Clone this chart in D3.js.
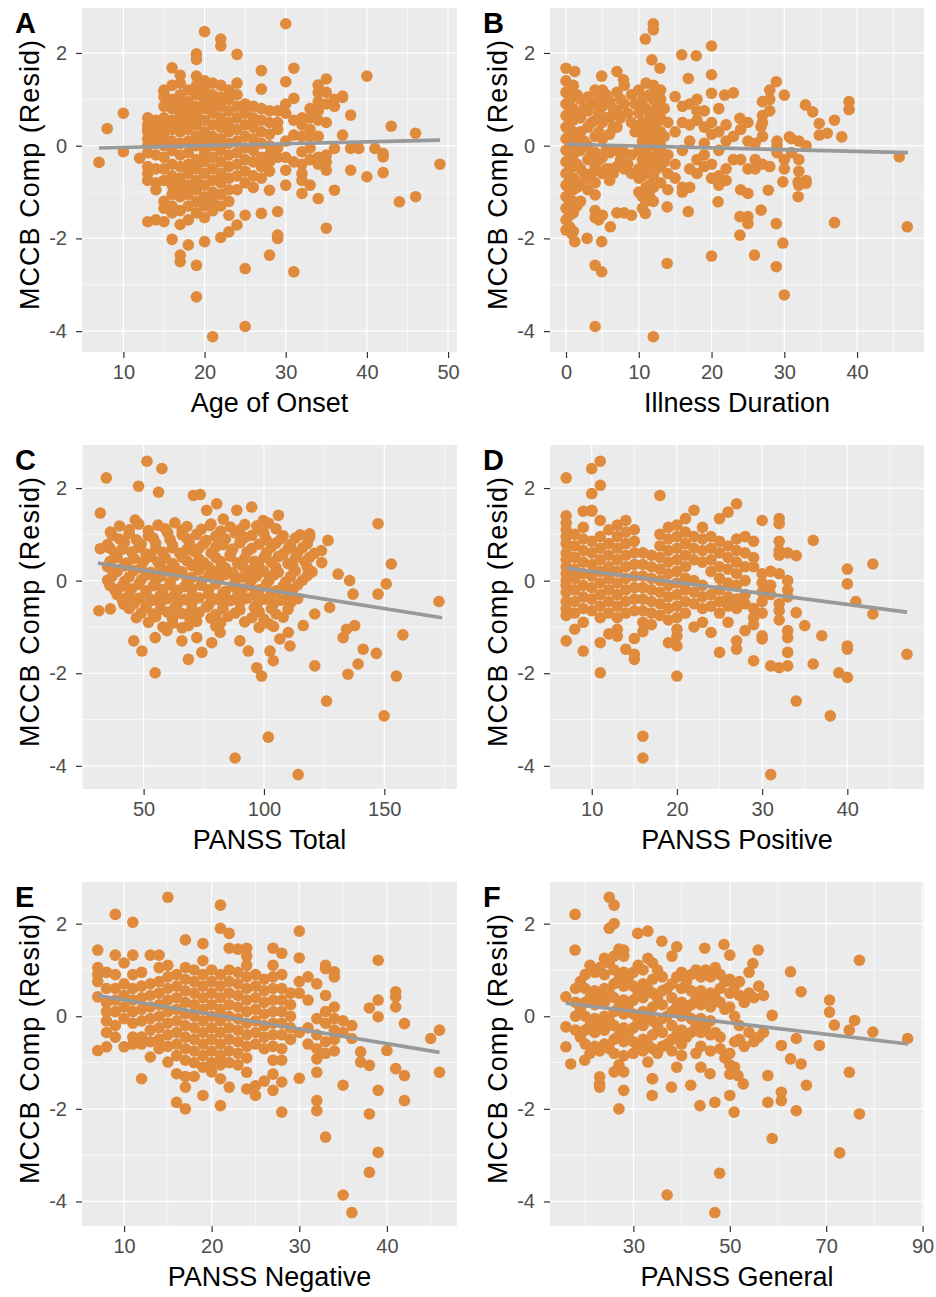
<!DOCTYPE html>
<html>
<head>
<meta charset="utf-8">
<script src="https://cdn.jsdelivr.net/npm/d3@7"></script>
<style>
body { margin: 0; background: #fff; }
text { font-family: "Liberation Sans", Arial, Helvetica, sans-serif; }
</style>
</head>
<body>
<svg id="chart" width="936" height="1297"></svg>
<script>
// y values are MCCB composite residuals
var yTicks = [-4, -2, 0, 2];
var yMinor = [-3, -1, 1];

// A: Age of Onset
var onsetTicks = [10, 20, 30, 40, 50];
var onsetMinor = [15, 25, 35, 45];
var onsetFit = [[7, -0.05], [49, 0.12]];
var onsetPts = [
[7,-0.36],[8,0.37],[10,0.70],[10,-0.13],[12,-0.27],[13,-1.64],[14,-1.6],[15,-1.64],[15,1.17],[16,1.68],[16,-2.02],[17,-2.36],[17,-2.5],[17,1.52],[18,-2.14],[19,1.98],[19,1.86],[19,-2.58],[19,-3.26],[20,2.46],[20,-2.07],[21,-4.12],[22,2.3],[22,2.15],[22,-1.98],[23,-1.86],[23,-1.5],[24,1.97],[24,-1.71],[25,-1.5],[25,-2.65],[25,-3.9],[27,1.62],[27,1.22],[27,-1.46],[28,-0.96],[28,-2.36],[29,-1.42],[29,-1.93],[29,-2.0],[30,2.63],[30,1.38],[30,-0.53],[30,-0.85],[31,1.67],[31,1.02],[31,-2.72],[31,0.23],[32,-1.03],[32,-0.13],[33,-0.85],[34,-1.14],[34,1.31],[35,1.44],[35,-1.78],[35,-0.53],[36,-0.96],[36,-0.06],[37,1.04],[37,0.23],[38,0.66],[38,-0.53],[38,-0.06],[39,-0.06],[40,1.5],[40,-0.67],[41,-0.06],[42,-0.17],[42,-0.24],[42,-0.58],[43,0.42],[44,-1.21],[46,0.27],[46,-1.1],[49,-0.4],
[13,0.6],[13,0.45],[13,0.3],[13,0.15],[13,0.0],[13,-0.15],[13,-0.45],[13,-0.6],[13,-0.75],[13,0.35],
[14,0.55],[14,0.35],[14,0.2],[14,0.05],[14,-0.2],[14,-0.5],[14,-0.8],[14,-0.95],[14,0.1],
[15,1.2],[15,1.05],[15,0.85],[15,0.6],[15,0.4],[15,0.2],[15,0.0],[15,-0.25],[15,-0.5],[15,-0.75],[15,-1.2],[15,-1.35],
[16,1.0],[16,0.8],[16,0.55],[16,0.35],[16,0.1],[16,-0.1],[16,-0.4],[16,-0.65],[16,-0.85],[16,-1.05],[16,-1.3],[16,-1.45],[16,1.3],
[17,1.35],[17,1.1],[17,0.9],[17,0.7],[17,0.5],[17,0.3],[17,0.05],[17,-0.2],[17,-0.45],[17,-0.7],[17,-0.9],[17,-1.1],[17,-1.4],[17,-1.7],
[18,1.2],[18,0.95],[18,0.75],[18,0.55],[18,0.35],[18,0.1],[18,-0.15],[18,-0.4],[18,-0.6],[18,-0.85],[18,-1.05],[18,-1.3],[18,-1.6],
[19,1.5],[19,1.3],[19,1.1],[19,0.85],[19,0.65],[19,0.45],[19,0.2],[19,0.0],[19,-0.3],[19,-0.5],[19,-0.75],[19,-0.95],[19,-1.2],[19,-1.45],
[20,1.4],[20,1.2],[20,1.0],[20,0.8],[20,0.55],[20,0.3],[20,0.1],[20,-0.15],[20,-0.35],[20,-0.6],[20,-0.85],[20,-1.1],[20,-1.3],[20,-1.55],
[21,1.35],[21,1.1],[21,0.9],[21,0.7],[21,0.45],[21,0.2],[21,0.0],[21,-0.25],[21,-0.5],[21,-0.75],[21,-1.0],[21,-1.2],[21,-1.4],
[22,1.3],[22,1.05],[22,0.85],[22,0.6],[22,0.4],[22,0.15],[22,-0.1],[22,-0.35],[22,-0.6],[22,-0.8],[22,-1.05],[22,-1.3],
[23,1.2],[23,1.0],[23,0.75],[23,0.5],[23,0.3],[23,0.05],[23,-0.2],[23,-0.45],[23,-0.7],[23,-0.95],[23,-1.2],
[24,1.35],[24,1.1],[24,0.85],[24,0.6],[24,0.35],[24,0.1],[24,-0.15],[24,-0.4],[24,-0.65],[24,-0.95],
[25,0.9],[25,0.7],[25,0.45],[25,0.2],[25,-0.05],[25,-0.3],[25,-0.55],[25,-0.8],
[26,0.85],[26,0.6],[26,0.4],[26,0.15],[26,-0.1],[26,-0.35],[26,-0.65],[26,-0.9],
[27,0.8],[27,0.55],[27,0.3],[27,0.05],[27,-0.25],[27,-0.45],[27,-0.7],
[28,0.75],[28,0.5],[28,0.25],[28,0.0],[28,-0.2],[28,-0.35],[28,-0.55],
[29,0.75],[29,0.5],[29,0.35],[29,-0.05],[29,-0.25],
[30,0.9],[30,0.7],[30,0.1],[30,-0.25],[31,0.55],[31,-0.35],
[32,0.6],[32,0.45],[32,0.2],[32,-0.4],[32,-0.6],[32,-0.75],
[33,0.8],[33,0.6],[33,0.35],[33,0.2],[33,-0.05],[33,-0.3],
[34,0.95],[34,0.75],[34,0.55],[34,0.2],[34,-0.25],[34,-0.4],[34,1.15],
[35,1.15],[35,0.9],[35,0.5],[35,-0.2],[35,-0.35],[36,0.85],[36,1.0],[37,1.07]
];

// B: Illness Duration
var durTicks = [0, 10, 20, 30, 40];
var durMinor = [5, 15, 25, 35, 45];
var durFit = [[0, 0.03], [47, -0.15]];
var durPts = [
[0,1.67],[1.2,1.6],[0,-1.82],[0.8,-1.9],[1.2,-2.07],[2.9,-2.0],[4,-1.06],[4,-2.58],[4,-3.9],[4.9,-2.72],[4.9,-2.07],[4.9,1.5],[6.1,-1.75],[7,1.6],[7.9,1.42],[9,-1.5],[10.9,2.3],[12,2.5],[12,2.63],[11.8,1.85],[12.9,1.67],[12,-4.12],[10.9,-1.46],[13.9,-2.54],[13.9,-1.32],[15,1.06],[15.9,1.96],[16.8,1.45],[17.9,1.94],[16.8,-1.42],[20,2.15],[20,1.53],[20,1.13],[20,-2.38],[20.9,-1.21],[21.8,1.09],[23,1.14],[23.9,0.59],[23.9,-1.93],[23.9,-1.53],[25,-1.03],[25,-1.53],[25,-1.68],[25.9,-2.36],[26.8,-1.39],[27.8,-0.96],[26.8,0.41],[28,1.2],[28.9,1.38],[28.9,-1.68],[28.9,-2.61],[30,1.09],[29.8,-0.78],[29.8,-2.1],[30,-3.22],[30.7,0.19],[31.9,-1.1],[31.9,-0.78],[32.9,0.88],[33,-0.81],[33.9,0.73],[34.8,0.48],[34.8,0.23],[35.9,0.27],[36.9,0.55],[36.9,-1.66],[37.9,0.19],[38.9,0.95],[38.9,0.78],[45.8,-0.24],[46.9,-1.75],
[0,1.4],[0,1.15],[0,0.9],[0,0.65],[0,0.4],[0,0.15],[0,-0.1],[0,-0.35],[0,-0.6],[0,-0.85],[0,-1.1],[0,-1.35],[0,-1.6],
[0.5,1.25],[0.5,1.0],[0.5,0.75],[0.5,0.5],[0.5,0.25],[0.5,0],[0.5,-0.25],[0.5,-0.5],[0.5,-0.75],[0.5,-1.0],[0.5,-1.25],[0.5,-1.5],[0.5,-1.75],
[1,1.3],[1,1.05],[1,0.8],[1,0.55],[1,0.3],[1,0.05],[1,-0.2],[1,-0.45],[1,-0.7],[1,-0.95],[1,-1.2],[1,-1.45],[1,-1.85],
[1.5,1.1],[1.5,0.7],[1.5,0.2],[1.5,-0.4],[1.5,-0.9],[1.5,-1.3],
[2,1.0],[2,0.6],[2,0.3],[2,-0.1],[2,-0.5],[2,-0.8],[2,-1.2],
[2.5,0.8],[2.5,0.1],[2.5,-0.6],
[3,1.05],[3,0.75],[3,0.4],[3,0.0],[3,-0.3],[3,-0.7],[3,-0.95],
[3.5,0.9],[3.5,0.5],[3.5,-0.2],[3.5,-0.6],
[4,1.2],[4,0.9],[4,0.55],[4,0.2],[4,-0.15],[4,-0.45],[4,-0.8],[4,-1.4],[4,-1.55],
[4.5,1.0],[4.5,0.7],[4.5,0.3],[4.5,-0.3],[4.5,-1.6],
[5,1.2],[5,0.85],[5,0.5],[5,0.15],[5,-0.25],[5,-0.6],[5,-1.5],
[5.5,1.1],[5.5,0.6],[5.5,-0.1],[5.5,-0.5],
[6,0.95],[6,0.6],[6,0.25],[6,-0.15],[6,-0.5],[6,-0.75],
[6.5,0.8],[6.5,0.4],[6.5,-0.6],
[7,1.15],[7,0.75],[7,0.4],[7,-0.1],[7,-0.45],[7,-1.45],
[7.5,1.0],[7.5,0.6],[7.5,-0.3],
[8,1.3],[8,0.9],[8,-0.15],[8,-0.5],[8,-1.45],
[8.5,0.7],[8.5,-0.4],[9,1.1],[9,0.5],[9,-0.2],[9,-0.6],[9.5,0.9],[9.5,0.3],
[10,1.2],[10,0.7],[10,0.35],[10,-0.1],[10,-0.5],[10,-1.0],[10,-0.7],[10,0.9],
[10.5,1.0],[10.5,0.5],[10.5,-0.3],[10.5,-0.65],[10.5,-1.1],[10.5,-1.35],[10.5,0.1],[10.5,0.25],
[11,1.35],[11,0.8],[11,0.25],[11,-0.15],[11,-0.6],[11,-0.9],[11,-1.2],[11,0.5],[11,-0.4],[11,1.05],
[11.5,1.1],[11.5,0.6],[11.5,0.1],[11.5,-0.4],[11.5,-0.85],[11.5,-1.1],[11.5,0.35],
[12,1.3],[12,1.0],[12,0.7],[12,0.4],[12,0.0],[12,-0.3],[12,-0.65],[12,0.15],[12,-0.9],[12,-1.2],
[12.5,1.2],[12.5,0.85],[12.5,0.5],[12.5,0.2],[12.5,-0.5],[12.5,-0.2],[12.5,0.65],
[13,1.0],[13,0.6],[13,0.3],[13,-0.1],[13,-0.45],[13,-0.8],[13,1.2],[13,0.0],
[13.5,0.8],[13.5,0.2],[13.5,-0.35],
[14,0.5],[14,-0.2],[14,-0.6],[14,-0.95],[15,0.3],[15,-0.4],[15,-0.7],
[16,0.85],[16,0.5],[16,-0.1],[16,-0.9],[16,-1.0],
[17,0.9],[17,0.45],[17,0.1],[17,-0.5],[17,-0.9],
[18,1.0],[18,0.75],[18,0.55],[18,-0.3],[18,-0.6],
[19,0.75],[19,0.4],[19,0.05],[19,-0.45],[19,-0.2],
[20,0.5],[20,0.25],[20,-0.4],[20,-0.7],
[21,0.8],[21,0.3],[21,-0.1],[21,-0.65],[21,-0.85],
[22,0.45],[22,0.1],[22,-0.5],[22,-0.75],[23,0.2],[23,-0.3],
[24,0.35],[24,-0.3],[24,-0.95],[25,0.5],[25,0.1],[25,-0.5],
[26,0.05],[26,-0.5],[26,-0.3],
[27,0.95],[27,0.65],[27,0.5],[27,0.2],[27,-0.4],
[28,0.75],[28,1.0],[28,-0.45],[29,0.1],[29,-0.15],[29,0.0],
[30,-0.5],[30,-0.3],[31,0.15],[31,-0.15],
[32,0.1],[32,-0.3],[32,-0.55],[32,-0.85],[33,0.0],[33,-0.75]
];

// C: PANSS Total
var totTicks = [50, 100, 150];
var totMinor = [25, 75, 125, 175];
var totFit = [[31, 0.38], [174, -0.8]];
var totPts = [
[31.4,-0.65],[32,1.46],[32,0.69],[34.5,2.22],[36.2,-0.61],[36.2,1.05],[41.7,-0.51],[45.9,-1.3],[49.3,-1.52],[46.5,1.31],[47.9,2.04],[51.4,2.58],[57.6,2.42],[56.2,1.91],[54.8,-1.99],[54.8,-1.23],[59.7,-1.08],[65.9,-1.3],[68.6,-1.7],[68.6,-0.97],[70.7,1.84],[73.5,1.86],[72.1,-1.23],[74.2,-1.55],[76.2,1.52],[77.6,1.19],[78.3,-1.34],[80.4,1.66],[81.8,-1.12],[83.1,1.33],[88.7,1.52],[88,-3.83],[90,-1.3],[94.9,1.59],[93.5,-1.52],[97,-1.88],[99,-2.06],[99.7,1.3],[101.8,-3.38],[102.5,-1.52],[103.9,-1.73],[106,1.41],[106.6,-1.26],[110.1,-1.12],[110.8,-1.41],[114.2,-4.19],[116.3,-0.97],[119,1.01],[119,0.94],[121.1,-1.84],[121.1,-0.72],[123.9,0.65],[126.6,0.87],[126,-2.6],[127.3,-0.58],[130.8,0.14],[132.9,-1.23],[134.3,-1.05],[134.9,-2.02],[135.6,0.0],[137,-0.29],[137.7,-0.97],[139.1,-1.8],[141.2,-1.48],[147.4,1.23],[147.4,-0.29],[146.7,-1.57],[149.9,-2.92],[150.8,-0.07],[152.9,0.36],[155,-2.06],[157.7,-1.17],[172.7,-0.45],
[40,1.18],[48,1.22],[56,1.2],[63,1.25],[68,1.17],[78,1.22],[86,1.16],[92,1.21],[97,1.18],[102,1.24],
[44,1.1],[52,1.08],[59,1.12],[66,1.09],[74,1.11],[82,1.07],[90,1.1],[99,1.09],[105,1.12],
[37,0.98],[44,1.02],[52,0.97],[60,1.03],[66,0.99],[72,1.0],[80,0.96],[88,1.03],[95,0.98],[100,1.02],[108,0.97],[115,0.99],
[40,0.9],[47,0.88],[54,0.92],[61,0.89],[68,0.91],[76,0.87],[84,0.9],[92,0.93],[101,0.88],[107,0.9],[113,0.92],
[35,0.78],[42,0.82],[49,0.79],[55,0.81],[62,0.77],[69,0.83],[75,0.8],[83,0.78],[90,0.82],[98,0.79],[105,0.81],[111,0.78],[118,0.8],
[36,0.7],[41,0.68],[48,0.72],[55,0.69],[62,0.71],[68,0.67],[73,0.7],[80,0.73],[87,0.68],[95,0.7],[103,0.72],[110,0.69],[116,0.71],
[38,0.6],[45,0.62],[51,0.58],[58,0.61],[65,0.59],[71,0.63],[78,0.6],[86,0.57],[93,0.62],[101,0.6],[108,0.58],[114,0.61],[121,0.59],
[39,0.5],[46,0.48],[53,0.52],[59,0.49],[66,0.51],[73,0.47],[80,0.5],[86,0.53],[92,0.48],[100,0.5],[106,0.52],[113,0.49],[119,0.51],
[36,0.41],[43,0.38],[50,0.42],[56,0.4],[62,0.37],[68,0.43],[75,0.39],[82,0.41],[89,0.38],[96,0.42],[103,0.4],[110,0.37],[117,0.41],[124,0.39],
[35,0.3],[42,0.32],[49,0.28],[57,0.31],[63,0.29],[70,0.33],[77,0.3],[84,0.27],[91,0.32],[98,0.3],[105,0.28],[112,0.31],[118,0.29],
[39,0.2],[46,0.22],[53,0.18],[60,0.21],[66,0.19],[73,0.23],[80,0.2],[87,0.17],[94,0.22],[100,0.2],[106,0.18],[113,0.21],[120,0.19],
[37,0.1],[44,0.08],[51,0.12],[57,0.09],[63,0.11],[70,0.07],[77,0.1],[84,0.13],[91,0.08],[97,0.1],[104,0.12],[111,0.09],[118,0.11],
[35,0.01],[42,-0.02],[49,0.02],[55,0.0],[61,-0.03],[68,0.03],[74,-0.01],[81,0.01],[88,-0.02],[95,0.02],[102,0.0],[109,-0.03],[116,0.01],
[36,-0.1],[41,-0.12],[48,-0.08],[54,-0.11],[61,-0.09],[67,-0.13],[74,-0.1],[80,-0.07],[87,-0.12],[94,-0.1],[101,-0.08],[108,-0.11],[114,-0.09],
[38,-0.2],[45,-0.18],[51,-0.22],[58,-0.19],[64,-0.21],[70,-0.17],[77,-0.2],[84,-0.23],[91,-0.18],[98,-0.2],[105,-0.22],[112,-0.19],
[39,-0.3],[44,-0.32],[51,-0.28],[57,-0.31],[63,-0.29],[70,-0.33],[77,-0.3],[83,-0.27],[89,-0.32],[96,-0.3],[103,-0.28],[110,-0.31],
[41,-0.4],[48,-0.38],[54,-0.42],[60,-0.39],[67,-0.41],[73,-0.37],[80,-0.4],[86,-0.43],[93,-0.38],[100,-0.4],[107,-0.42],[114,-0.39],
[46,-0.5],[51,-0.52],[57,-0.48],[64,-0.51],[70,-0.49],[77,-0.53],[83,-0.5],[90,-0.47],[97,-0.52],[104,-0.5],[111,-0.48],
[44,-0.6],[51,-0.58],[57,-0.62],[63,-0.59],[70,-0.61],[76,-0.57],[83,-0.6],[90,-0.63],[96,-0.58],[103,-0.6],[110,-0.62],
[49,-0.7],[54,-0.72],[60,-0.68],[66,-0.71],[73,-0.69],[80,-0.73],[88,-0.7],[98,-0.67],[105,-0.72],
[47,-0.8],[55,-0.78],[62,-0.82],[69,-0.79],[78,-0.81],[85,-0.77],[95,-0.8],[100,-0.83],[108,-0.79],
[52,-0.9],[62,-0.92],[72,-0.88],[82,-0.91],[92,-0.89],[102,-0.93],
[58,-1.0],[66,-1.02],[80,-0.98],[98,-1.01],[104,-0.99]
];

// D: PANSS Positive
var posTicks = [10, 20, 30, 40];
var posMinor = [15, 25, 35, 45];
var posFit = [[7, 0.27], [47, -0.68]];
var posPts = [
[7,2.22],[7,-1.3],[8,-1.05],[9,-1.52],[9,1.5],[10,2.42],[10,1.88],[11,2.58],[11,2.06],[11,-1.99],[11,-1.34],[10,1.52],[11,1.3],[14,-1.48],[15,-1.59],[15,-1.7],[16,-3.36],[16,-3.83],[18,1.84],[19,-1.34],[20,-2.06],[20,-1.41],[21,1.34],[22,1.52],[24,-1.12],[25,-1.55],[25,1.34],[26,1.48],[27,1.66],[27,-1.3],[27,-1.48],[28,-1.08],[29,-1.73],[30,1.3],[30,-1.19],[30,-1.26],[31,-1.84],[31,-4.19],[32,1.34],[32,1.23],[32,-1.88],[33,-1.84],[33,-1.55],[33,-1.23],[33,-1.08],[34,-2.6],[34,-0.69],[34,0.54],[35,-0.97],[36,0.87],[36,-1.8],[37,-1.19],[38,-2.92],[39,-1.99],[40,0.25],[40,-0.07],[40,-1.41],[40,-1.48],[40,-2.09],[41,-0.45],[43,0.36],[43,-0.72],[47,-1.59],
[7,1.4],[7,1.25],[7,1.1],[7,0.95],[7,0.8],[7,0.6],[7,0.45],[7,0.3],[7,0.15],[7,0.0],[7,-0.1],[7,-0.25],[7,-0.45],[7,-0.6],[7,-0.75],
[8,1.0],[8,0.75],[8,0.5],[8,0.25],[8,0.05],[8,-0.2],[8,-0.45],[8,-0.7],
[9,1.15],[9,0.9],[9,0.65],[9,0.4],[9,0.15],[9,-0.1],[9,-0.35],[9,-0.6],[9,-0.9],
[10,1.5],[10,0.85],[10,0.6],[10,0.35],[10,0.1],[10,-0.15],[10,-0.4],[10,-0.65],
[11,0.95],[11,0.7],[11,0.45],[11,0.2],[11,-0.05],[11,-0.3],[11,-0.55],[11,-0.8],
[12,1.1],[12,0.8],[12,0.55],[12,0.3],[12,0.05],[12,-0.2],[12,-0.45],[12,-0.7],[12,-1.15],
[13,1.2],[13,0.95],[13,0.7],[13,0.45],[13,0.2],[13,-0.05],[13,-0.3],[13,-0.55],[13,-0.8],[13,-1.05],[13,-1.2],
[14,1.3],[14,1.05],[14,0.8],[14,0.55],[14,0.3],[14,0.05],[14,-0.2],[14,-0.45],[14,-0.7],
[15,1.1],[15,0.85],[15,0.6],[15,0.35],[15,0.1],[15,-0.15],[15,-0.4],[15,-0.65],[15,-1.25],
[16,0.6],[16,0.35],[16,0.1],[16,-0.15],[16,-0.4],[16,-0.65],[16,-0.9],[16,-1.1],
[17,0.55],[17,0.3],[17,0.05],[17,-0.2],[17,-0.45],[17,-0.7],[17,-0.95],
[18,1.0],[18,0.75],[18,0.5],[18,0.25],[18,0.0],[18,-0.25],[18,-0.5],[18,-0.75],
[19,1.15],[19,0.9],[19,0.65],[19,0.4],[19,0.15],[19,-0.1],[19,-0.35],[19,-0.6],[19,-0.85],
[20,1.2],[20,0.95],[20,0.7],[20,0.45],[20,0.2],[20,-0.05],[20,-0.3],[20,-0.55],[20,-0.8],[20,-1.05],[20,-1.2],
[21,1.05],[21,0.8],[21,0.55],[21,0.3],[21,0.05],[21,-0.2],[21,-0.45],[21,-0.7],
[22,0.95],[22,0.7],[22,0.45],[22,0.0],[22,-0.25],[22,-0.5],[22,-1.0],
[23,1.15],[23,0.9],[23,0.65],[23,0.4],[23,-0.1],[23,-0.35],[23,-0.6],[23,-0.9],
[24,0.95],[24,0.7],[24,0.45],[24,0.2],[24,-0.3],[24,-0.55],
[25,0.85],[25,0.6],[25,0.3],[25,0.05],[25,-0.2],[25,-0.45],[25,-0.7],
[26,0.75],[26,0.5],[26,0.25],[26,-0.05],[26,-0.35],[26,-0.55],[26,-0.9],
[27,0.9],[27,0.65],[27,0.4],[27,0.15],[27,-0.1],[27,-0.4],[27,-0.6],
[28,0.95],[28,0.6],[28,0.3],[28,0.0],[28,-0.3],[28,-0.5],
[29,0.85],[29,0.5],[29,0.3],[29,-0.6],[29,-0.8],[29,-0.95],
[30,0.15],[30,-0.05],[30,-0.25],[30,-0.45],[30,-0.7],
[31,0.2],[31,-0.1],[31,-0.3],
[32,0.85],[32,0.65],[32,0.55],[32,0.15],[32,-0.5],[32,-0.65],[32,-0.85],
[33,0.6],[33,0.0],[33,-0.2],[33,-0.35]
];

// E: PANSS Negative
var negTicks = [10, 20, 30, 40];
var negMinor = [15, 25, 35, 45];
var negFit = [[7, 0.45], [46, -0.78]];
var negPts = [
[7,1.43],[7,0.42],[7,-0.74],[8,-0.66],[9,2.2],[9,1.32],[10,-0.66],[11,2.03],[11,1.32],[12,-1.35],[13,1.32],[13,-0.88],[14,1.32],[15,2.57],[15,-0.99],[16,-1.86],[16,-1.24],[17,-2.0],[17,1.65],[17,-1.53],[19,1.57],[19,-1.71],[21,2.4],[21,1.9],[21,-1.93],[21,-1.35],[22,1.79],[22,1.47],[22,-1.53],[24,1.47],[24,-1.21],[25,-1.71],[24,-1.57],[27,1.47],[27,-1.6],[28,1.36],[28,-2.07],[28,-1.42],[30,1.84],[30,1.26],[30,-1.34],[32,-1.82],[32,-2.04],[32,-1.21],[32,-0.92],[33,-2.61],[33,1.1],[33,1.03],[34,0.96],[34,0.85],[35,-1.49],[35,-3.86],[36,-4.24],[36,-0.48],[37,-0.77],[37,-0.99],[38,0.18],[38,-2.11],[38,-3.37],[38,-1.06],[39,1.21],[39,0.35],[39,-0.01],[39,-1.6],[39,-2.94],[40,-0.74],[41,0.53],[41,0.42],[41,0.2],[41,-1.13],[42,-0.16],[42,-1.28],[42,-1.82],[45,-0.48],[46,-0.3],[46,-1.21],
[7,1.05],[7,0.9],[7,0.75],
[8,0.95],[8,0.6],[8,0.3],[8,0.1],[8,-0.1],[8,-0.35],
[9,0.9],[9,0.6],[9,0.35],[9,0.1],[9,-0.2],[9,-0.45],
[10,1.15],[10,0.7],[10,0.45],[10,0.2],[10,-0.05],
[11,0.9],[11,0.6],[11,0.35],[11,0.1],[11,-0.15],[11,-0.45],[11,-0.6],
[12,0.95],[12,0.65],[12,0.4],[12,0.15],[12,-0.1],[12,-0.45],[12,-0.6],
[13,0.7],[13,0.45],[13,0.2],[13,-0.05],[13,-0.3],[13,-0.55],
[14,1.05],[14,0.75],[14,0.5],[14,0.25],[14,0.0],[14,-0.25],[14,-0.5],[14,-0.7],
[15,1.1],[15,0.85],[15,0.6],[15,0.35],[15,0.1],[15,-0.15],[15,-0.4],[15,-0.65],
[16,0.9],[16,0.65],[16,0.4],[16,0.15],[16,-0.1],[16,-0.35],[16,-0.6],[16,-0.85],
[17,1.05],[17,0.8],[17,0.55],[17,0.3],[17,0.05],[17,-0.2],[17,-0.45],[17,-0.7],[17,-0.95],[17,-1.3],
[18,1.0],[18,0.75],[18,0.5],[18,0.25],[18,0.0],[18,-0.25],[18,-0.5],[18,-0.75],[18,-1.0],[18,-1.3],
[19,1.2],[19,0.9],[19,0.65],[19,0.4],[19,0.15],[19,-0.1],[19,-0.35],[19,-0.6],[19,-0.85],[19,-1.1],
[20,1.0],[20,0.75],[20,0.5],[20,0.25],[20,0.0],[20,-0.25],[20,-0.5],[20,-0.75],[20,-1.0],[20,-1.2],
[21,0.9],[21,0.65],[21,0.4],[21,0.15],[21,-0.1],[21,-0.35],[21,-0.6],[21,-0.85],[21,-1.05],
[22,1.0],[22,0.75],[22,0.5],[22,0.25],[22,0.0],[22,-0.25],[22,-0.5],[22,-0.75],[22,-1.0],
[23,1.45],[23,0.95],[23,0.7],[23,0.45],[23,0.2],[23,-0.05],[23,-0.3],[23,-0.55],[23,-0.8],[23,-1.05],
[24,1.3],[24,1.1],[24,0.85],[24,0.6],[24,0.35],[24,0.1],[24,-0.15],[24,-0.4],[24,-0.65],[24,-0.9],
[25,0.9],[25,0.65],[25,0.4],[25,0.15],[25,-0.1],[25,-0.35],[25,-0.6],[25,-1.5],
[26,0.8],[26,0.55],[26,0.3],[26,0.05],[26,-0.2],[26,-0.45],[26,-0.7],[26,-1.4],
[27,1.1],[27,0.85],[27,0.6],[27,0.35],[27,0.1],[27,-0.15],[27,-0.4],[27,-0.65],[27,-0.95],[27,-1.25],
[28,0.9],[28,0.6],[28,0.35],[28,0.1],[28,-0.15],[28,-0.4],[28,-0.7],[28,-0.95],
[29,0.5],[29,0.25],[29,0.0],[29,-0.25],[29,-0.5],
[30,0.75],[30,0.5],[30,-0.35],[31,0.85],[31,0.35],[31,-0.25],[31,-0.6],
[32,0.7],[32,-0.05],[32,-0.4],[32,-0.7],
[33,0.45],[33,0.1],[33,-0.15],[33,-0.55],[33,-0.8],
[34,0.2],[34,-0.05],[34,-0.3],[34,-0.5],[34,-0.75],
[35,-0.1],[35,-0.35],[36,-0.2]
];

// F: PANSS General
var genTicks = [30, 50, 70, 90];
var genMinor = [20, 40, 60, 80];
var genFit = [[16, 0.28], [87, -0.6]];
var genPts = [
[16,0.42],[16,-0.23],[16,-0.66],[17,-1.03],[17.9,2.2],[17.9,1.43],[19.9,-0.95],[23,-1.31],[23,-1.46],[23,-1.53],[25,2.57],[26,2.4],[25,1.9],[26,2.0],[27,-2.0],[28,-1.6],[28,1.43],[30.9,1.79],[33,1.84],[33,-0.99],[33.9,-1.71],[33.9,-1.35],[35.9,1.62],[37,-3.86],[37.9,-1.53],[39,1.5],[39,-1.1],[41.9,-1.49],[43.8,-1.93],[44.8,1.47],[45.9,-1.24],[46.9,-1.86],[46.9,-4.24],[47.9,-3.39],[48.8,1.55],[50,1.32],[50,-1.71],[50.9,-2.07],[51.7,-1.28],[52.8,-1.46],[54.8,1.14],[55.9,1.43],[57.9,-1.28],[57.9,-1.86],[58.8,-2.64],[58.8,0.02],[60.7,-0.63],[60.7,-1.64],[60.7,-1.82],[62.6,0.96],[62.6,-0.92],[63.8,-2.04],[63.8,-0.48],[64.8,0.53],[65.9,-1.49],[64.8,-1.03],[68.6,-0.63],[70.7,0.35],[70.7,0.09],[71.7,-0.19],[74.8,-0.3],[74.8,-1.21],[75.9,-0.09],[76.9,1.21],[76.9,-2.11],[72.8,-2.95],[79.7,-0.34],[86.9,-0.48],
[18,0.6],[18,0.3],[18,0.0],[18,-0.3],
[19,0.75],[19,0.15],[19,-0.45],
[20,0.9],[20,0.6],[20,0.3],[20,0.0],[20,-0.3],[20,-0.6],
[21,1.1],[21,0.4],[21,-0.2],[21,-0.8],
[22,0.95],[22,0.55],[22,0.25],[22,-0.05],[22,-0.35],[22,-0.65],
[23,1.05],[23,0.45],[23,-0.15],[23,-0.75],
[24,1.25],[24,0.9],[24,0.6],[24,0.3],[24,0.0],[24,-0.3],[24,-0.6],
[25,1.15],[25,0.5],[25,-0.1],[25,-0.7],
[26,1.3],[26,1.0],[26,0.7],[26,0.4],[26,0.1],[26,-0.2],[26,-0.5],[26,-0.8],[26,-1.2],
[27,1.45],[27,0.8],[27,0.2],[27,-0.4],[27,-1.05],
[28,1.3],[28,0.95],[28,0.65],[28,0.35],[28,0.05],[28,-0.25],[28,-0.55],[28,-0.85],[28,-1.2],
[29,0.85],[29,0.25],[29,-0.35],
[30,0.95],[30,0.65],[30,0.35],[30,0.05],[30,-0.25],[30,-0.55],[30,-0.8],
[31,1.1],[31,0.5],[31,-0.1],[31,-0.7],
[32,1.0],[32,0.7],[32,0.4],[32,0.1],[32,-0.2],[32,-0.5],[32,-0.75],
[33,1.25],[33,0.6],[33,0.0],[33,-0.6],
[34,1.15],[34,0.8],[34,0.5],[34,0.2],[34,-0.1],[34,-0.4],[34,-0.7],[34,-1.35],
[35,1.0],[35,0.4],[35,-0.2],[35,-0.8],
[36,0.85],[36,0.55],[36,0.25],[36,-0.05],[36,-0.35],[36,-0.65],
[37,0.6],[37,0.0],[37,-0.6],
[38,1.3],[38,0.7],[38,0.4],[38,0.1],[38,-0.2],[38,-0.5],[38,-0.75],
[39,0.85],[39,0.2],[39,-0.4],
[40,0.95],[40,0.6],[40,0.3],[40,0.0],[40,-0.3],[40,-0.6],[40,-0.85],
[41,0.75],[41,0.15],[41,-0.45],
[42,0.9],[42,0.55],[42,0.25],[42,-0.05],[42,-0.35],
[43,1.0],[43,0.4],[43,-0.2],[43,-0.8],
[44,0.85],[44,0.55],[44,0.25],[44,-0.05],[44,-0.35],[44,-0.65],[44,-1.1],
[45,1.0],[45,0.4],[45,-0.2],
[46,0.85],[46,0.5],[46,0.2],[46,-0.1],[46,-0.4],[46,-0.75],
[47,1.05],[47,0.4],[47,-0.35],
[48,0.9],[48,0.6],[48,0.3],[48,-0.45],[48,-0.7],
[49,0.75],[49,0.15],[49,-0.9],
[50,0.8],[50,0.5],[50,0.2],[50,-0.8],[50,-1.05],[50,-1.25],
[51,0.65],[51,0.0],[51,-0.55],[51,-1.1],
[52,0.75],[52,0.45],[52,-0.2],[52,-0.5],[53,0.3],[53,-0.65],
[54,0.95],[54,0.5],[54,-0.35],[55,0.4],[55,-0.55],
[56,0.65],[56,-0.45],[57,0.45],[57,-0.35]
];

var panels = [
  {label: "A", title: "Age of Onset",     pts: onsetPts, fit: onsetFit, xDom: [4.9, 51.1],   ticks: onsetTicks, minor: onsetMinor, col: 0, row: 0},
  {label: "B", title: "Illness Duration", pts: durPts,   fit: durFit,   xDom: [-2.2, 49.2],  ticks: durTicks,   minor: durMinor,   col: 1, row: 0},
  {label: "C", title: "PANSS Total",      pts: totPts,   fit: totFit,   xDom: [24.4, 180.2], ticks: totTicks,   minor: totMinor,   col: 0, row: 1},
  {label: "D", title: "PANSS Positive",   pts: posPts,   fit: posFit,   xDom: [5.1, 49.0],   ticks: posTicks,   minor: posMinor,   col: 1, row: 1},
  {label: "E", title: "PANSS Negative",   pts: negPts,   fit: negFit,   xDom: [5.2, 48.0],   ticks: negTicks,   minor: negMinor,   col: 0, row: 2},
  {label: "F", title: "PANSS General",    pts: genPts,   fit: genFit,   xDom: [12.7, 90.3],  ticks: genTicks,   minor: genMinor,   col: 1, row: 2}
];

// layout
var colLeft = [82, 550], panelW = [375, 374];
var rowTop = [8, 445, 882], panelH = 344;
var rowYDom = [[-4.45, 2.97], [-4.5, 2.93], [-4.53, 2.9]];

var svg = d3.select("#chart");
var plain = function(d) { return String(d); }; // hyphen minus like the source

panels.forEach(function(p) {
  var left = colLeft[p.col], top = rowTop[p.row], w = panelW[p.col];
  var x = d3.scaleLinear().domain(p.xDom).range([0, w]);
  var y = d3.scaleLinear().domain(rowYDom[p.row]).range([panelH, 0]);

  var g = svg.append("g").attr("transform", "translate(" + left + "," + top + ")");

  g.append("rect")
    .attr("width", w).attr("height", panelH)
    .attr("fill", "#EBEBEB");

  // minor grid
  g.selectAll(".vminor").data(p.minor.filter(function(v){ return v > p.xDom[0] && v < p.xDom[1]; }))
    .enter().append("line")
    .attr("x1", function(d){ return x(d); }).attr("x2", function(d){ return x(d); })
    .attr("y1", 0).attr("y2", panelH)
    .attr("stroke", "#fff").attr("stroke-width", 0.6);
  g.selectAll(".hminor").data(yMinor)
    .enter().append("line")
    .attr("x1", 0).attr("x2", w)
    .attr("y1", function(d){ return y(d); }).attr("y2", function(d){ return y(d); })
    .attr("stroke", "#fff").attr("stroke-width", 0.6);
  // major grid
  g.selectAll(".vmajor").data(p.ticks)
    .enter().append("line")
    .attr("x1", function(d){ return x(d); }).attr("x2", function(d){ return x(d); })
    .attr("y1", 0).attr("y2", panelH)
    .attr("stroke", "#fff").attr("stroke-width", 1.2);
  g.selectAll(".hmajor").data(yTicks)
    .enter().append("line")
    .attr("x1", 0).attr("x2", w)
    .attr("y1", function(d){ return y(d); }).attr("y2", function(d){ return y(d); })
    .attr("stroke", "#fff").attr("stroke-width", 1.2);

  // points
  g.selectAll("circle").data(p.pts)
    .enter().append("circle")
    .attr("cx", function(d){ return x(d[0]); })
    .attr("cy", function(d){ return y(d[1]); })
    .attr("r", 5.8)
    .attr("fill", "#E08A3C");

  // fitted line
  g.append("path")
    .datum(p.fit)
    .attr("d", d3.line().x(function(d){ return x(d[0]); }).y(function(d){ return y(d[1]); }))
    .attr("stroke", "#999999").attr("stroke-width", 3.6).attr("fill", "none");

  // axes
  var xa = g.append("g").attr("transform", "translate(0," + panelH + ")")
    .call(d3.axisBottom(x).tickValues(p.ticks).tickFormat(plain).tickSize(6).tickPadding(7));
  var ya = g.append("g")
    .call(d3.axisLeft(y).tickValues(yTicks).tickFormat(plain).tickSize(6).tickPadding(9));
  [xa, ya].forEach(function(a) {
    a.select(".domain").remove();
    a.selectAll(".tick line").attr("stroke", "#333333").attr("stroke-width", 1.2);
    a.selectAll(".tick text").attr("fill", "#4D4D4D").attr("font-size", "20px")
      .style("font-family", "'Liberation Sans', Arial, sans-serif");
  });

  // titles
  g.append("text")
    .attr("x", w / 2).attr("y", panelH + 60)
    .attr("text-anchor", "middle")
    .attr("font-size", "27px").attr("fill", "#000")
    .text(p.title);

  g.append("text")
    .attr("transform", "translate(-43," + (panelH / 2 - 5) + ") rotate(-90)")
    .attr("text-anchor", "middle")
    .attr("font-size", "27px").attr("fill", "#000")
    .attr("textLength", 270).attr("lengthAdjust", "spacing")
    .text("MCCB Comp (Resid)");

  g.append("text")
    .attr("x", -67).attr("y", 25)
    .attr("font-size", "29px").attr("font-weight", "bold").attr("fill", "#000")
    .text(p.label);
});
</script>
</body>
</html>
